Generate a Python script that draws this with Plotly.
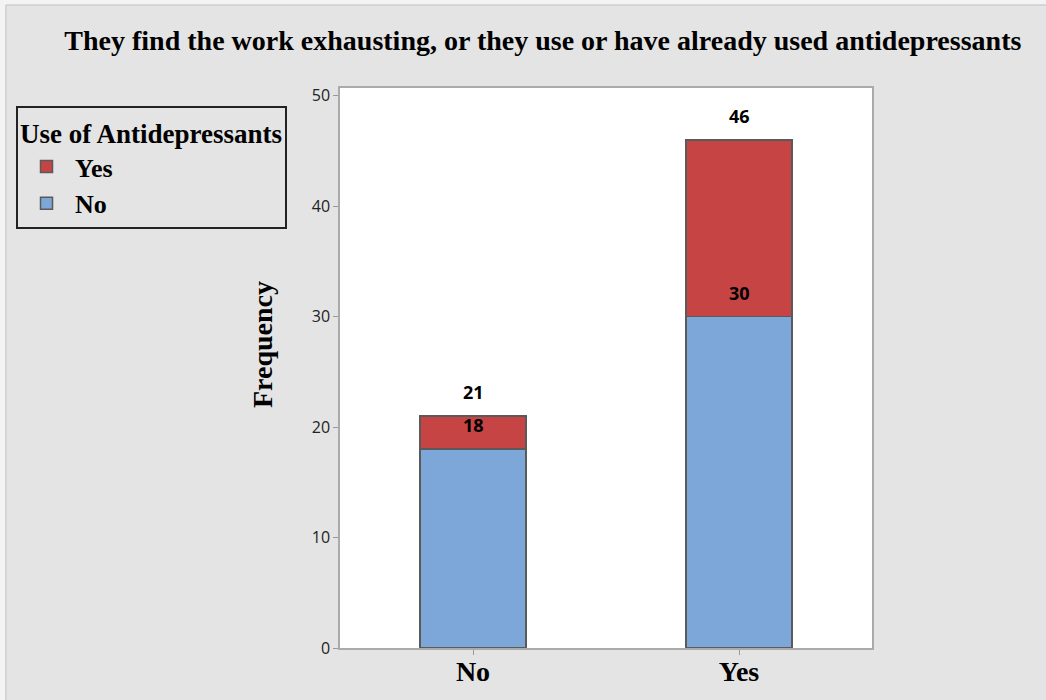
import plotly.graph_objects as go

categories = ["No", "Yes"]
antidep_no = [18, 30]
antidep_yes = [3, 16]
totals = [21, 46]

RED = "#c64444"
BLUE = "#7ca7d8"
SERIF = "Liberation Serif"

fig = go.Figure()
fig.add_trace(go.Bar(x=categories, y=antidep_no, name="<b>No</b>",
                     marker=dict(color=BLUE, line=dict(color="#5a5a5a", width=1.5)),
                     width=0.4, legendrank=2))
fig.add_trace(go.Bar(x=categories, y=antidep_yes, name="<b>Yes</b>",
                     marker=dict(color=RED, line=dict(color="#5a5a5a", width=1.5)),
                     width=0.4, legendrank=1))

for c, v in zip(categories, antidep_no):
    fig.add_annotation(x=c, y=v, text=f"<b>{v}</b>", showarrow=False, yanchor="bottom", yshift=10,
                       font=dict(family="Open Sans", size=18, color="#000"))
for c, v in zip(categories, totals):
    fig.add_annotation(x=c, y=v, text=f"<b>{v}</b>", showarrow=False, yanchor="bottom", yshift=10,
                       font=dict(family="Open Sans", size=18, color="#000"))

# y-axis title
fig.add_annotation(xref="paper", yref="paper", x=-0.1466, y=0.541, text="<b>Frequency</b>",
                   textangle=-90, showarrow=False, xanchor="center", yanchor="middle",
                   font=dict(family=SERIF, size=28, color="#000"))

fig.update_layout(
    barmode="stack",
    width=1046, height=700,
    paper_bgcolor="#e4e4e4", plot_bgcolor="#ffffff",
    margin=dict(l=340, r=174, t=88, b=52, autoexpand=False),
    title=dict(text="<b>They find the work exhausting, or they use or have already used antidepressants</b>",
               x=0.519, xanchor="center", y=0.943, yanchor="middle",
               font=dict(family=SERIF, size=28, color="#000")),
    legend=dict(
        title=dict(text="<b>Use of Antidepressants</b>", font=dict(family=SERIF, size=27, color="#000")),
        font=dict(family=SERIF, size=26, color="#000"),
        x=-0.609, xanchor="left", y=0.968, yanchor="top",
        bgcolor="rgba(0,0,0,0)", bordercolor="#222", borderwidth=2,
        traceorder="normal", itemwidth=47, tracegroupgap=0,
    ),
    xaxis=dict(range=[-0.5, 1.5], showline=True, linecolor="#aaaaaa", linewidth=1.5, mirror=True,
               ticks="outside", ticklen=5, tickcolor="#999", showgrid=False, automargin=False,
               ticklabelstandoff=-7,
               tickfont=dict(family=SERIF, size=28, color="#000"),
               tickvals=categories, ticktext=[f"<b>{c}</b>" for c in categories]),
    yaxis=dict(range=[0, 50.7], showline=True, linecolor="#aaaaaa", linewidth=1.5, mirror=True,
               ticks="outside", ticklen=5, tickcolor="#999", showgrid=False, zeroline=False,
               automargin=False, tickvals=[0, 10, 20, 30, 40, 50],
               tickfont=dict(family="Open Sans", size=16, color="#222")),
)
# light outer strips at the left and top edges
fig.add_shape(type="rect", xref="paper", yref="paper", x0=-0.64, x1=-0.628, y0=-0.1, y1=1.16,
              fillcolor="#f3f3f3", line=dict(width=0), layer="below")
fig.add_shape(type="rect", xref="paper", yref="paper", x0=-0.64, x1=1.33, y0=1.148, y1=1.16,
              fillcolor="#f3f3f3", line=dict(width=0), layer="below")
fig.add_shape(type="line", xref="paper", yref="paper", x0=-0.628, x1=-0.628, y0=-0.1, y1=1.148,
              line=dict(color="#cfcfcf", width=1.5), layer="below")
fig.add_shape(type="line", xref="paper", yref="paper", x0=-0.628, x1=1.33, y0=1.148, y1=1.148,
              line=dict(color="#cfcfcf", width=1.5), layer="below")

fig.write_html("out.html")
